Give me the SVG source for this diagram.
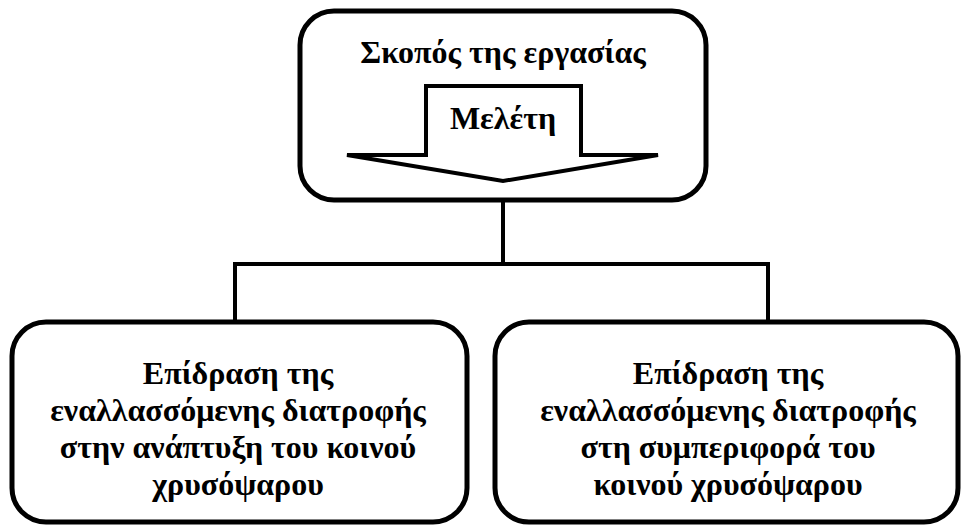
<svg xmlns="http://www.w3.org/2000/svg" width="964" height="527" viewBox="0 0 964 527">
<style>
.box{fill:#fff;stroke:#000;stroke-width:5}
.ln{fill:none;stroke:#000;stroke-width:4}
text{font-family:"Liberation Serif","Times New Roman",serif;font-weight:bold;font-size:32px;fill:#000;text-anchor:middle}
</style>
<rect width="964" height="527" fill="#fff"/>
<g id="connectors">
<path class="ln" d="M503 200 V264 M235 264 H768 M235 262 V322 M768 262 V322"/>
</g>
<g id="top">
<rect class="box" x="300" y="11" width="406" height="189" rx="34"/>
<text x="503" y="63">Σκοπός της εργασίας</text>
<path class="ln" d="M347 155 H426 V86 H581 V155 H658 L503 181 Z" stroke-width="5" stroke-linejoin="miter"/>
<text x="503" y="129">Μελέτη</text>
</g>
<g id="left">
<rect class="box" x="12" y="322" width="455" height="200" rx="34"/>
<text x="238" y="384">Επίδραση της</text>
<text x="238" y="421">εναλλασσόμενης διατροφής</text>
<text x="238" y="458">στην ανάπτυξη του κοινού</text>
<text x="238" y="495">χρυσόψαρου</text>
</g>
<g id="right">
<rect class="box" x="495" y="322" width="463" height="200" rx="34"/>
<text x="728" y="384">Επίδραση της</text>
<text x="728" y="421">εναλλασσόμενης διατροφής</text>
<text x="728" y="458">στη συμπεριφορά του</text>
<text x="728" y="495">κοινού χρυσόψαρου</text>
</g>
</svg>
